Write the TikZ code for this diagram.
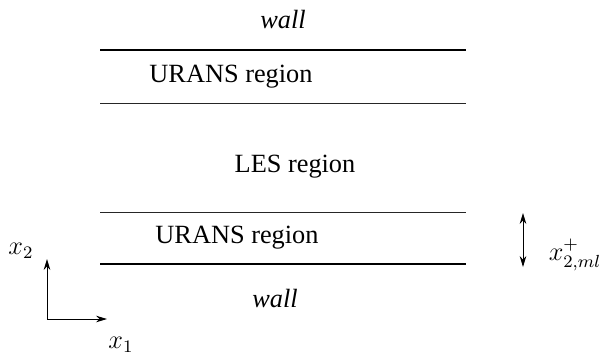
\documentclass[tikz,border=0pt]{standalone}
\usepackage{fontspec}
\setmainfont{Liberation Serif}
\usetikzlibrary{arrows.meta}

\begin{document}
\begin{tikzpicture}[x=0.456pt,y=-0.456pt,>={Stealth[length=5pt,width=3pt]},
  wallline/.style={line width=0.9pt},
  bandline/.style={line width=0.45pt,black!85},
  lbl/.style={inner sep=0pt,font=\fontsize{12}{14}\selectfont}]
  \useasboundingbox (0,0) rectangle (610,358);

  % Walls and region boundaries
  \draw[wallline] (100,50) -- (466,50);
  \draw[bandline] (100,103) -- (466,103);
  \draw[bandline] (100,212) -- (466,212);
  \draw[wallline] (100,264) -- (466,264);

  % Region labels
  \node[lbl] (walltop) at (283,19) {\textit{wall}};
  \node[lbl] (uranstop) at (231,77) {URANS region};
  \node[lbl] (les) at (295,167) {LES region};
  \node[lbl] (uransbot) at (237,238) {URANS region};
  \node[lbl] (wallbot) at (275,298) {\textit{wall}};

  % Coordinate directions
  \coordinate (O) at (47,319);
  \coordinate (e1) at (107,319);
  \coordinate (e2) at (47,259);
  \draw[->] (O) -- (e1);
  \draw[->] (O) -- (e2);
  \node[lbl] (xone) at (121,345) {$x_1$};
  \node[lbl] (xtwo) at (21,251) {$x_2$};

  % Thickness of the URANS layer
  \coordinate (mltop) at (523,213);
  \coordinate (mlbot) at (523,267);
  \draw[<->] (mltop) -- (mlbot);
  \node[lbl] (xml) at (575,255) {$x_{2,ml}^+$};
\end{tikzpicture}
\end{document}
